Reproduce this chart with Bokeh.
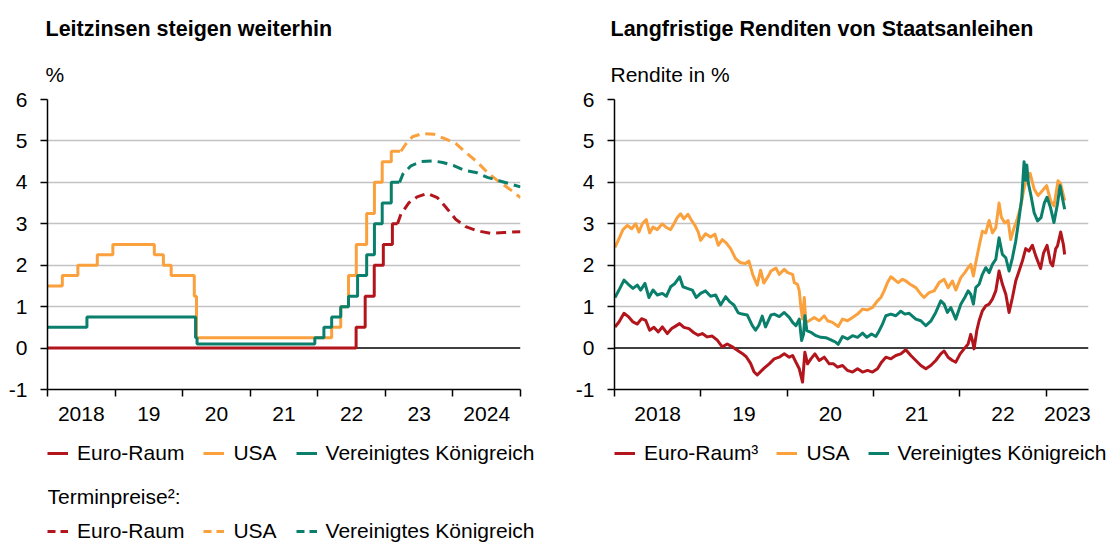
import pandas as pd
from bokeh.plotting import figure
from bokeh.models import FixedTicker, Span, Legend, LegendItem, Label, Title
from bokeh.layouts import row, column
from bokeh.embed import file_html
from bokeh.resources import INLINE

# ---------------- colours / fonts ----------------
RED = "#B2151C"
ORANGE = "#FAA03C"
GREEN = "#0A7F6C"
FONT = "Liberation Sans"
FS = "21px"
LEG_FS = "21px"

# ---------------- left panel: policy rates (change dates) ----------------
ea_dates = ["2018-01-01", "2022-07-27", "2022-09-14", "2022-11-02", "2022-12-21",
            "2023-02-08", "2023-03-08"]
ea_rates = [0.0, 0.5, 1.25, 2.0, 2.5, 3.0, 3.0]

us_dates = ["2018-01-01", "2018-03-22", "2018-06-14", "2018-09-27", "2018-12-20",
            "2019-08-01", "2019-09-19", "2019-10-31", "2020-03-04", "2020-03-16",
            "2022-03-17", "2022-05-05", "2022-06-16", "2022-07-28", "2022-09-22",
            "2022-11-03", "2022-12-15", "2023-02-02", "2023-03-22"]
us_rates = [1.5, 1.75, 2.0, 2.25, 2.5, 2.25, 2.0, 1.75, 1.25, 0.25,
            0.5, 1.0, 1.75, 2.5, 3.25, 4.0, 4.5, 4.75, 4.75]

uk_dates = ["2018-01-01", "2018-08-02", "2020-03-11", "2020-03-19", "2021-12-16",
            "2022-02-03", "2022-03-17", "2022-05-05", "2022-06-16", "2022-08-04",
            "2022-09-22", "2022-11-03", "2022-12-15", "2023-02-02", "2023-03-17"]
uk_rates = [0.5, 0.75, 0.25, 0.1, 0.25, 0.5, 0.75, 1.0, 1.25, 1.75,
            2.25, 3.0, 3.5, 4.0, 4.0]

# forward prices (decimal years)
fut_ea_t = [2023.18, 2023.23, 2023.35, 2023.47, 2023.62, 2023.77, 2023.89, 2024.04,
            2024.19, 2024.36, 2024.56, 2024.76, 2025.0]
fut_ea_v = [3.0, 3.23, 3.51, 3.65, 3.73, 3.63, 3.41, 3.11, 2.93, 2.83, 2.77, 2.79, 2.81]
fut_us_t = [2023.23, 2023.30, 2023.40, 2023.55, 2023.72, 2023.87, 2024.04, 2024.19,
            2024.34, 2024.51, 2024.66, 2024.81, 2024.91, 2025.0]
fut_us_v = [4.75, 4.92, 5.10, 5.18, 5.16, 5.06, 4.94, 4.72, 4.52, 4.24, 4.04, 3.87, 3.75, 3.63]
fut_uk_t = [2023.21, 2023.26, 2023.38, 2023.53, 2023.70, 2023.85, 2024.02, 2024.17,
            2024.34, 2024.51, 2024.68, 2024.83, 2025.0]
fut_uk_v = [4.0, 4.20, 4.40, 4.50, 4.52, 4.48, 4.40, 4.29, 4.24, 4.12, 4.04, 3.97, 3.89]

left_tick_labels = ["2018", "19", "20", "21", "22", "23", "2024"]

# ---------------- right panel: 10y government bond yields ----------------
y_us_t = [2018.006, 2018.052, 2018.098, 2018.149, 2018.199, 2018.245, 2018.284, 2018.322,
          2018.368, 2018.407, 2018.446, 2018.496, 2018.554, 2018.600, 2018.650, 2018.689,
          2018.727, 2018.766, 2018.804, 2018.851, 2018.893, 2018.932, 2018.970, 2018.997,
          2019.055, 2019.113, 2019.163, 2019.202, 2019.248, 2019.294, 2019.345, 2019.402,
          2019.460, 2019.518, 2019.557, 2019.603, 2019.653, 2019.692, 2019.730, 2019.788,
          2019.812, 2019.870, 2019.908, 2019.966, 2020.005, 2020.063, 2020.082, 2020.120,
          2020.140, 2020.159, 2020.178, 2020.198, 2020.217, 2020.255, 2020.313, 2020.371,
          2020.429, 2020.468, 2020.525, 2020.591, 2020.641, 2020.699, 2020.757, 2020.815,
          2020.873, 2020.931, 2020.988, 2021.046, 2021.085, 2021.123, 2021.162, 2021.201,
          2021.239, 2021.286, 2021.336, 2021.374, 2021.424, 2021.490, 2021.548, 2021.586,
          2021.644, 2021.702, 2021.760, 2021.818, 2021.864, 2021.914, 2021.953, 2022.011,
          2022.057, 2022.096, 2022.126, 2022.157, 2022.184, 2022.223, 2022.261, 2022.300,
          2022.339, 2022.377, 2022.416, 2022.454, 2022.481, 2022.520, 2022.559, 2022.589,
          2022.628, 2022.667, 2022.705, 2022.736, 2022.763, 2022.813, 2022.860, 2022.905,
          2022.955, 2023.005, 2023.052, 2023.090, 2023.137, 2023.168, 2023.214]
y_us_v = [2.43, 2.64, 2.86, 2.96, 2.88, 3.00, 2.80, 3.00,
          3.10, 2.78, 2.92, 2.86, 3.00, 2.91, 2.86, 3.00,
          3.15, 3.24, 3.12, 3.23, 3.08, 2.96, 2.80, 2.60,
          2.76, 2.68, 2.75, 2.48, 2.62, 2.54, 2.40, 2.16,
          2.06, 2.04, 2.10, 1.76, 1.52, 1.88, 1.57, 1.76,
          1.86, 1.93, 1.78, 1.90, 1.82, 1.78, 1.58, 1.54,
          1.38, 0.98, 0.70, 1.22, 0.62, 0.66, 0.74, 0.66,
          0.78, 0.66, 0.62, 0.52, 0.70, 0.66, 0.74, 0.82,
          0.94, 0.92, 0.98, 1.14, 1.22, 1.38, 1.58, 1.72,
          1.66, 1.58, 1.66, 1.62, 1.54, 1.46, 1.30, 1.22,
          1.34, 1.38, 1.58, 1.66, 1.46, 1.62, 1.40, 1.70,
          1.82, 1.94, 2.02, 1.74, 2.06, 2.46, 2.82, 2.78,
          3.08, 2.78, 2.90, 3.50, 3.16, 3.02, 3.08, 2.62,
          2.90, 3.13, 3.42, 3.78, 4.02, 4.22, 3.84, 3.68,
          3.80, 3.92, 3.55, 3.43, 4.04, 3.96, 3.56]

y_uk_t = [2018.006, 2018.052, 2018.110, 2018.160, 2018.214, 2018.264, 2018.303, 2018.353,
          2018.399, 2018.446, 2018.496, 2018.554, 2018.600, 2018.650, 2018.700, 2018.754,
          2018.793, 2018.843, 2018.901, 2018.947, 2018.997, 2019.055, 2019.113, 2019.171,
          2019.229, 2019.287, 2019.333, 2019.383, 2019.433, 2019.479, 2019.537, 2019.595,
          2019.634, 2019.672, 2019.711, 2019.750, 2019.812, 2019.850, 2019.908, 2019.966,
          2020.024, 2020.063, 2020.101, 2020.140, 2020.167, 2020.190, 2020.205, 2020.228,
          2020.275, 2020.333, 2020.390, 2020.448, 2020.506, 2020.564, 2020.591, 2020.641,
          2020.699, 2020.757, 2020.815, 2020.873, 2020.923, 2020.977, 2021.027, 2021.066,
          2021.104, 2021.143, 2021.201, 2021.259, 2021.316, 2021.363, 2021.413, 2021.490,
          2021.548, 2021.606, 2021.663, 2021.721, 2021.779, 2021.818, 2021.856, 2021.895,
          2021.953, 2022.011, 2022.057, 2022.096, 2022.126, 2022.157, 2022.184, 2022.223,
          2022.261, 2022.300, 2022.339, 2022.377, 2022.416, 2022.454, 2022.493, 2022.532,
          2022.570, 2022.609, 2022.647, 2022.686, 2022.717, 2022.744, 2022.760, 2022.775,
          2022.795, 2022.820, 2022.860, 2022.900, 2022.940, 2022.980, 2023.010, 2023.050,
          2023.090, 2023.130, 2023.160, 2023.190, 2023.214]
y_uk_v = [1.22, 1.40, 1.64, 1.54, 1.44, 1.52, 1.40, 1.56,
          1.22, 1.40, 1.28, 1.32, 1.25, 1.48, 1.56, 1.72,
          1.48, 1.44, 1.40, 1.22, 1.32, 1.38, 1.25, 1.28,
          1.04, 1.24, 1.12, 1.04, 0.85, 0.82, 0.80, 0.55,
          0.43, 0.55, 0.77, 0.51, 0.80, 0.82, 0.76, 0.86,
          0.74, 0.62, 0.54, 0.70, 0.18, 0.34, 0.78, 0.42,
          0.38, 0.30, 0.26, 0.25, 0.20, 0.14, 0.09, 0.28,
          0.22, 0.30, 0.26, 0.36, 0.26, 0.34, 0.28, 0.42,
          0.58, 0.78, 0.82, 0.78, 0.89, 0.82, 0.84, 0.70,
          0.66, 0.54, 0.65, 0.86, 1.14, 1.06, 0.86, 0.98,
          0.70, 1.06, 1.22, 1.38, 1.30, 1.06, 1.46, 1.54,
          1.78, 1.94, 1.82, 2.02, 2.14, 2.66, 2.26, 2.18,
          1.86, 2.18, 2.58, 3.14, 3.62, 4.50, 4.05, 4.42,
          3.96, 3.72, 3.27, 3.07, 3.15, 3.51, 3.64, 3.39,
          3.03, 3.47, 3.92, 3.60, 3.35]

y_ea_t = [2018.006, 2018.052, 2018.110, 2018.160, 2018.214, 2018.264, 2018.314, 2018.361,
          2018.407, 2018.457, 2018.507, 2018.554, 2018.612, 2018.662, 2018.708, 2018.754,
          2018.804, 2018.862, 2018.920, 2018.970, 2019.017, 2019.074, 2019.132, 2019.190,
          2019.248, 2019.306, 2019.364, 2019.422, 2019.479, 2019.526, 2019.576, 2019.615,
          2019.653, 2019.692, 2019.730, 2019.792, 2019.850, 2019.908, 2019.966, 2020.024,
          2020.063, 2020.101, 2020.140, 2020.178, 2020.205, 2020.236, 2020.275, 2020.321,
          2020.371, 2020.429, 2020.487, 2020.537, 2020.583, 2020.641, 2020.699, 2020.757,
          2020.815, 2020.873, 2020.931, 2020.988, 2021.046, 2021.093, 2021.143, 2021.201,
          2021.259, 2021.316, 2021.374, 2021.432, 2021.490, 2021.548, 2021.606, 2021.663,
          2021.721, 2021.779, 2021.818, 2021.864, 2021.914, 2021.953, 2022.003, 2022.049,
          2022.096, 2022.126, 2022.146, 2022.165, 2022.196, 2022.223, 2022.261, 2022.300,
          2022.339, 2022.377, 2022.416, 2022.454, 2022.493, 2022.532, 2022.570, 2022.609,
          2022.647, 2022.686, 2022.724, 2022.763, 2022.800, 2022.840, 2022.880, 2022.935,
          2022.970, 2023.010, 2023.050, 2023.075, 2023.110, 2023.130, 2023.168, 2023.199,
          2023.214]
y_ea_v = [0.51, 0.63, 0.84, 0.76, 0.63, 0.58, 0.71, 0.67,
          0.43, 0.50, 0.39, 0.51, 0.35, 0.47, 0.53, 0.59,
          0.50, 0.47, 0.37, 0.31, 0.35, 0.27, 0.29, 0.19,
          0.03, 0.10, 0.03, -0.05, -0.13, -0.21, -0.37, -0.57,
          -0.65, -0.57, -0.49, -0.38, -0.26, -0.22, -0.14, -0.22,
          -0.18, -0.34, -0.50, -0.82, -0.10, -0.38, -0.26, -0.14,
          -0.30, -0.22, -0.38, -0.38, -0.46, -0.42, -0.54, -0.58,
          -0.50, -0.58, -0.54, -0.58, -0.50, -0.34, -0.22, -0.26,
          -0.18, -0.14, -0.04, -0.18, -0.30, -0.42, -0.50, -0.42,
          -0.30, -0.14, -0.07, -0.22, -0.30, -0.34, -0.14, -0.02,
          0.10, 0.33, 0.18, -0.02, 0.42, 0.66, 0.90, 1.02,
          1.06, 1.18, 1.38, 1.86, 1.54, 1.30, 0.86, 1.22,
          1.62, 1.86, 2.10, 2.40, 2.34, 2.48, 2.22, 1.92,
          2.30, 2.48, 2.06, 1.98, 2.40, 2.46, 2.80, 2.50,
          2.26]

right_tick_labels = ["2018", "19", "20", "21", "22", "2023"]

# ---------------- layout constants (pixels) ----------------
CHART_H = 430   # titles + chart + x axis
LEG_H = 113     # legend strip
DASH = "10 6"


def dec_year(s):
    d = pd.Timestamp(s)
    y0 = pd.Timestamp(year=d.year, month=1, day=1)
    y1 = pd.Timestamp(year=d.year + 1, month=1, day=1)
    return d.year + (d - y0) / (y1 - y0)


def make_chart(x_end, width, border_l, border_r, labels, title, subtitle, offset):
    p = figure(width=width, height=CHART_H, x_range=(2018, x_end), y_range=(-1, 6),
               output_backend="svg", toolbar_location=None, title=None,
               min_border_left=border_l, min_border_right=border_r,
               min_border_top=99, min_border_bottom=41)
    p.outline_line_color = None
    p.background_fill_color = "white"
    p.border_fill_color = "white"

    p.add_layout(Title(text=subtitle, align="left", offset=offset, text_font=FONT,
                       text_font_size=FS, text_font_style="normal", text_color="black",
                       standoff=27), "above")
    p.add_layout(Title(text=title, align="left", offset=offset, text_font=FONT,
                       text_font_size="21.5px", text_font_style="bold", text_color="black",
                       standoff=13), "above")

    bounds = list(range(2018, int(x_end) + 1))
    mids = [(b + min(b + 1, x_end)) / 2 for b in bounds][:len(labels)]
    if x_end == int(x_end):
        bounds = bounds + [int(x_end)]
    xa = p.xaxis[0]
    xa.ticker = FixedTicker(ticks=mids, minor_ticks=bounds)
    xa.major_label_overrides = {m: l for m, l in zip(mids, labels)}
    xa.major_tick_line_color = None
    xa.major_tick_out = 7
    xa.major_tick_in = 0
    xa.minor_tick_line_color = "black"
    xa.minor_tick_line_width = 1.5
    xa.minor_tick_out = 7
    xa.minor_tick_in = 0
    xa.axis_line_color = "black"
    xa.axis_line_width = 1.5
    xa.major_label_standoff = 10
    xa.major_label_text_font = FONT
    xa.major_label_text_font_size = FS
    xa.major_label_text_color = "black"

    ya = p.yaxis[0]
    ya.ticker = FixedTicker(ticks=[-1, 0, 1, 2, 3, 4, 5, 6])
    ya.major_label_overrides = {-1: "-1"}
    ya.major_tick_out = 7
    ya.major_tick_in = 0
    ya.major_tick_line_color = "black"
    ya.major_tick_line_width = 1.5
    ya.minor_tick_line_color = None
    ya.axis_line_color = "black"
    ya.axis_line_width = 1.5
    ya.major_label_standoff = 13
    ya.major_label_text_font = FONT
    ya.major_label_text_font_size = FS
    ya.major_label_text_color = "black"

    p.xgrid.visible = False
    p.ygrid.ticker = FixedTicker(ticks=[1, 2, 3, 4, 5, 6])
    p.ygrid.grid_line_color = "#C2C2C2"
    p.ygrid.grid_line_width = 1.5

    p.add_layout(Span(location=0, dimension="width", line_color="black",
                      line_width=1.5, level="underlay"))
    return p


def legend_fig(width, border_l):
    p = figure(width=width, height=LEG_H, x_range=(0, 1), y_range=(0, 1),
               output_backend="svg", toolbar_location=None, title=None,
               x_axis_location=None, y_axis_location=None,
               min_border_left=border_l, min_border_right=0,
               min_border_top=0, min_border_bottom=0)
    p.outline_line_color = None
    p.xgrid.visible = False
    p.ygrid.visible = False
    p.border_fill_color = "white"
    p.background_fill_color = "white"
    return p


def legend_row(p, names, colors, dash, y, spacing):
    items = []
    for name, col in zip(names, colors):
        # sample-only renderer, its points lie outside the visible range
        r = p.line(x=[-5, -4], y=[-5, -5], line_color=col, line_width=3, line_dash=dash)
        items.append(LegendItem(label=name, renderers=[r]))
    p.add_layout(Legend(items=items, orientation="horizontal", location=(0, y),
                        margin=0, padding=0, spacing=spacing, label_standoff=9,
                        glyph_width=21, glyph_height=24, label_height=24,
                        label_text_font=FONT, label_text_font_size=LEG_FS,
                        label_text_color="black",
                        border_line_alpha=0, background_fill_alpha=0))


# ---------------- left panel ----------------
LW, RW = 568, 548
pl = make_chart(2025, LW, 47, 48, left_tick_labels, "Leitzinsen steigen weiterhin", "%", -2)
pl.step([dec_year(d) for d in us_dates], us_rates, mode="after", line_color=ORANGE, line_width=3)
pl.step([dec_year(d) for d in uk_dates], uk_rates, mode="after", line_color=GREEN, line_width=3)
pl.step([dec_year(d) for d in ea_dates], ea_rates, mode="after", line_color=RED, line_width=3)
pl.line(fut_us_t, fut_us_v, line_color=ORANGE, line_width=3, line_dash=DASH)
pl.line(fut_uk_t, fut_uk_v, line_color=GREEN, line_width=3, line_dash=DASH)
pl.line(fut_ea_t, fut_ea_v, line_color=RED, line_width=3, line_dash=DASH)

ll = legend_fig(LW, 47)
names_l = ["Euro-Raum", "USA", "Vereinigtes Königreich"]
legend_row(ll, names_l, [RED, ORANGE, GREEN], "solid", LEG_H - 35, 19)
ll.add_layout(Label(x=0, y=LEG_H - 66, x_units="screen", y_units="screen",
                    text="Terminpreise²:", text_font=FONT, text_font_size=LEG_FS,
                    text_color="black", text_baseline="alphabetic"))
legend_row(ll, names_l, [RED, ORANGE, GREEN], "8 5", 0, 19)

# ---------------- right panel ----------------
pr = make_chart(2023.49, RW, 46, 28, right_tick_labels,
                "Langfristige Renditen von Staatsanleihen", "Rendite in %", -4)
pr.line(y_us_t, y_us_v, line_color=ORANGE, line_width=3, line_join="round")
pr.line(y_uk_t, y_uk_v, line_color=GREEN, line_width=3, line_join="round")
pr.line(y_ea_t, y_ea_v, line_color=RED, line_width=3, line_join="round")

lr = legend_fig(RW, 46)
legend_row(lr, ["Euro-Raum³", "USA", "Vereinigtes Königreich"], [RED, ORANGE, GREEN],
           "solid", LEG_H - 35, 18)

layout = column(row(pl, pr), row(ll, lr))
open("out.html", "w").write(file_html(layout, INLINE))
